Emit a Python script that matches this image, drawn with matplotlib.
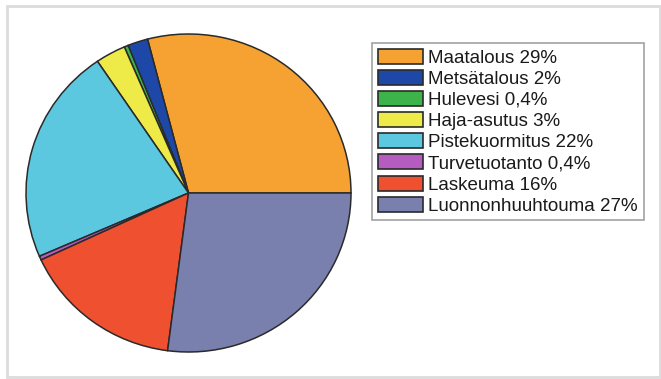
import matplotlib
matplotlib.use("Agg")
import matplotlib.pyplot as plt
from matplotlib.patches import Patch, Rectangle

plt.rcParams["font.family"] = ["Liberation Sans", "DejaVu Sans"]

# Shares of the load by source (%), in legend order
sources = ["Maatalous", "Metsätalous", "Hulevesi", "Haja-asutus",
           "Pistekuormitus", "Turvetuotanto", "Laskeuma", "Luonnonhuuhtouma"]
shares = [29, 2, 0.4, 3, 22, 0.4, 16, 27]
share_labels = ["29%", "2%", "0,4%", "3%", "22%", "0,4%", "16%", "27%"]
colors = ["#F6A233", "#1E48A8", "#3CB44A", "#EEEA48",
          "#5CC8E0", "#B45CC0", "#EE5030", "#7A80AE"]

W, H = 661, 379
fig = plt.figure(figsize=(W / 100, H / 100), dpi=100)
fig.patch.set_facecolor("white")

# light frame round the whole picture
fig.add_artist(Rectangle((7 / W, 1 - 377 / H), 653 / W, 371 / H,
                         transform=fig.transFigure, fill=False,
                         edgecolor="#dcdcdc", linewidth=2))

ax = fig.add_axes([26 / W, 1 - 352 / H, 325 / W, 318 / H])
wedges, _ = ax.pie(shares, colors=colors, startangle=0, counterclock=True,
                   wedgeprops=dict(edgecolor="#2a2a2a", linewidth=1.1))
ax.set_aspect("auto")
ax.set_xlim(-1, 1)
ax.set_ylim(-1, 1)

handles = [Patch(facecolor=c, edgecolor="#2a2a2a", linewidth=1.2) for c in colors]
labels = [f"{s} {p}" for s, p in zip(sources, share_labels)]
leg = fig.legend(handles, labels, loc="upper left",
                 bbox_to_anchor=(372 / W, 1 - 43 / H), bbox_transform=fig.transFigure,
                 fontsize=13.5, frameon=True, fancybox=False, shadow=False,
                 borderpad=0.3, borderaxespad=0, labelspacing=0.17,
                 handlelength=2.4, handleheight=0.85, handletextpad=0.3)
leg.get_frame().set_edgecolor("#8a8a8a")
leg.get_frame().set_linewidth(1.2)
for t in leg.get_texts():
    t.set_color("#1a1a1a")

fig.savefig("out.png", dpi=100)
